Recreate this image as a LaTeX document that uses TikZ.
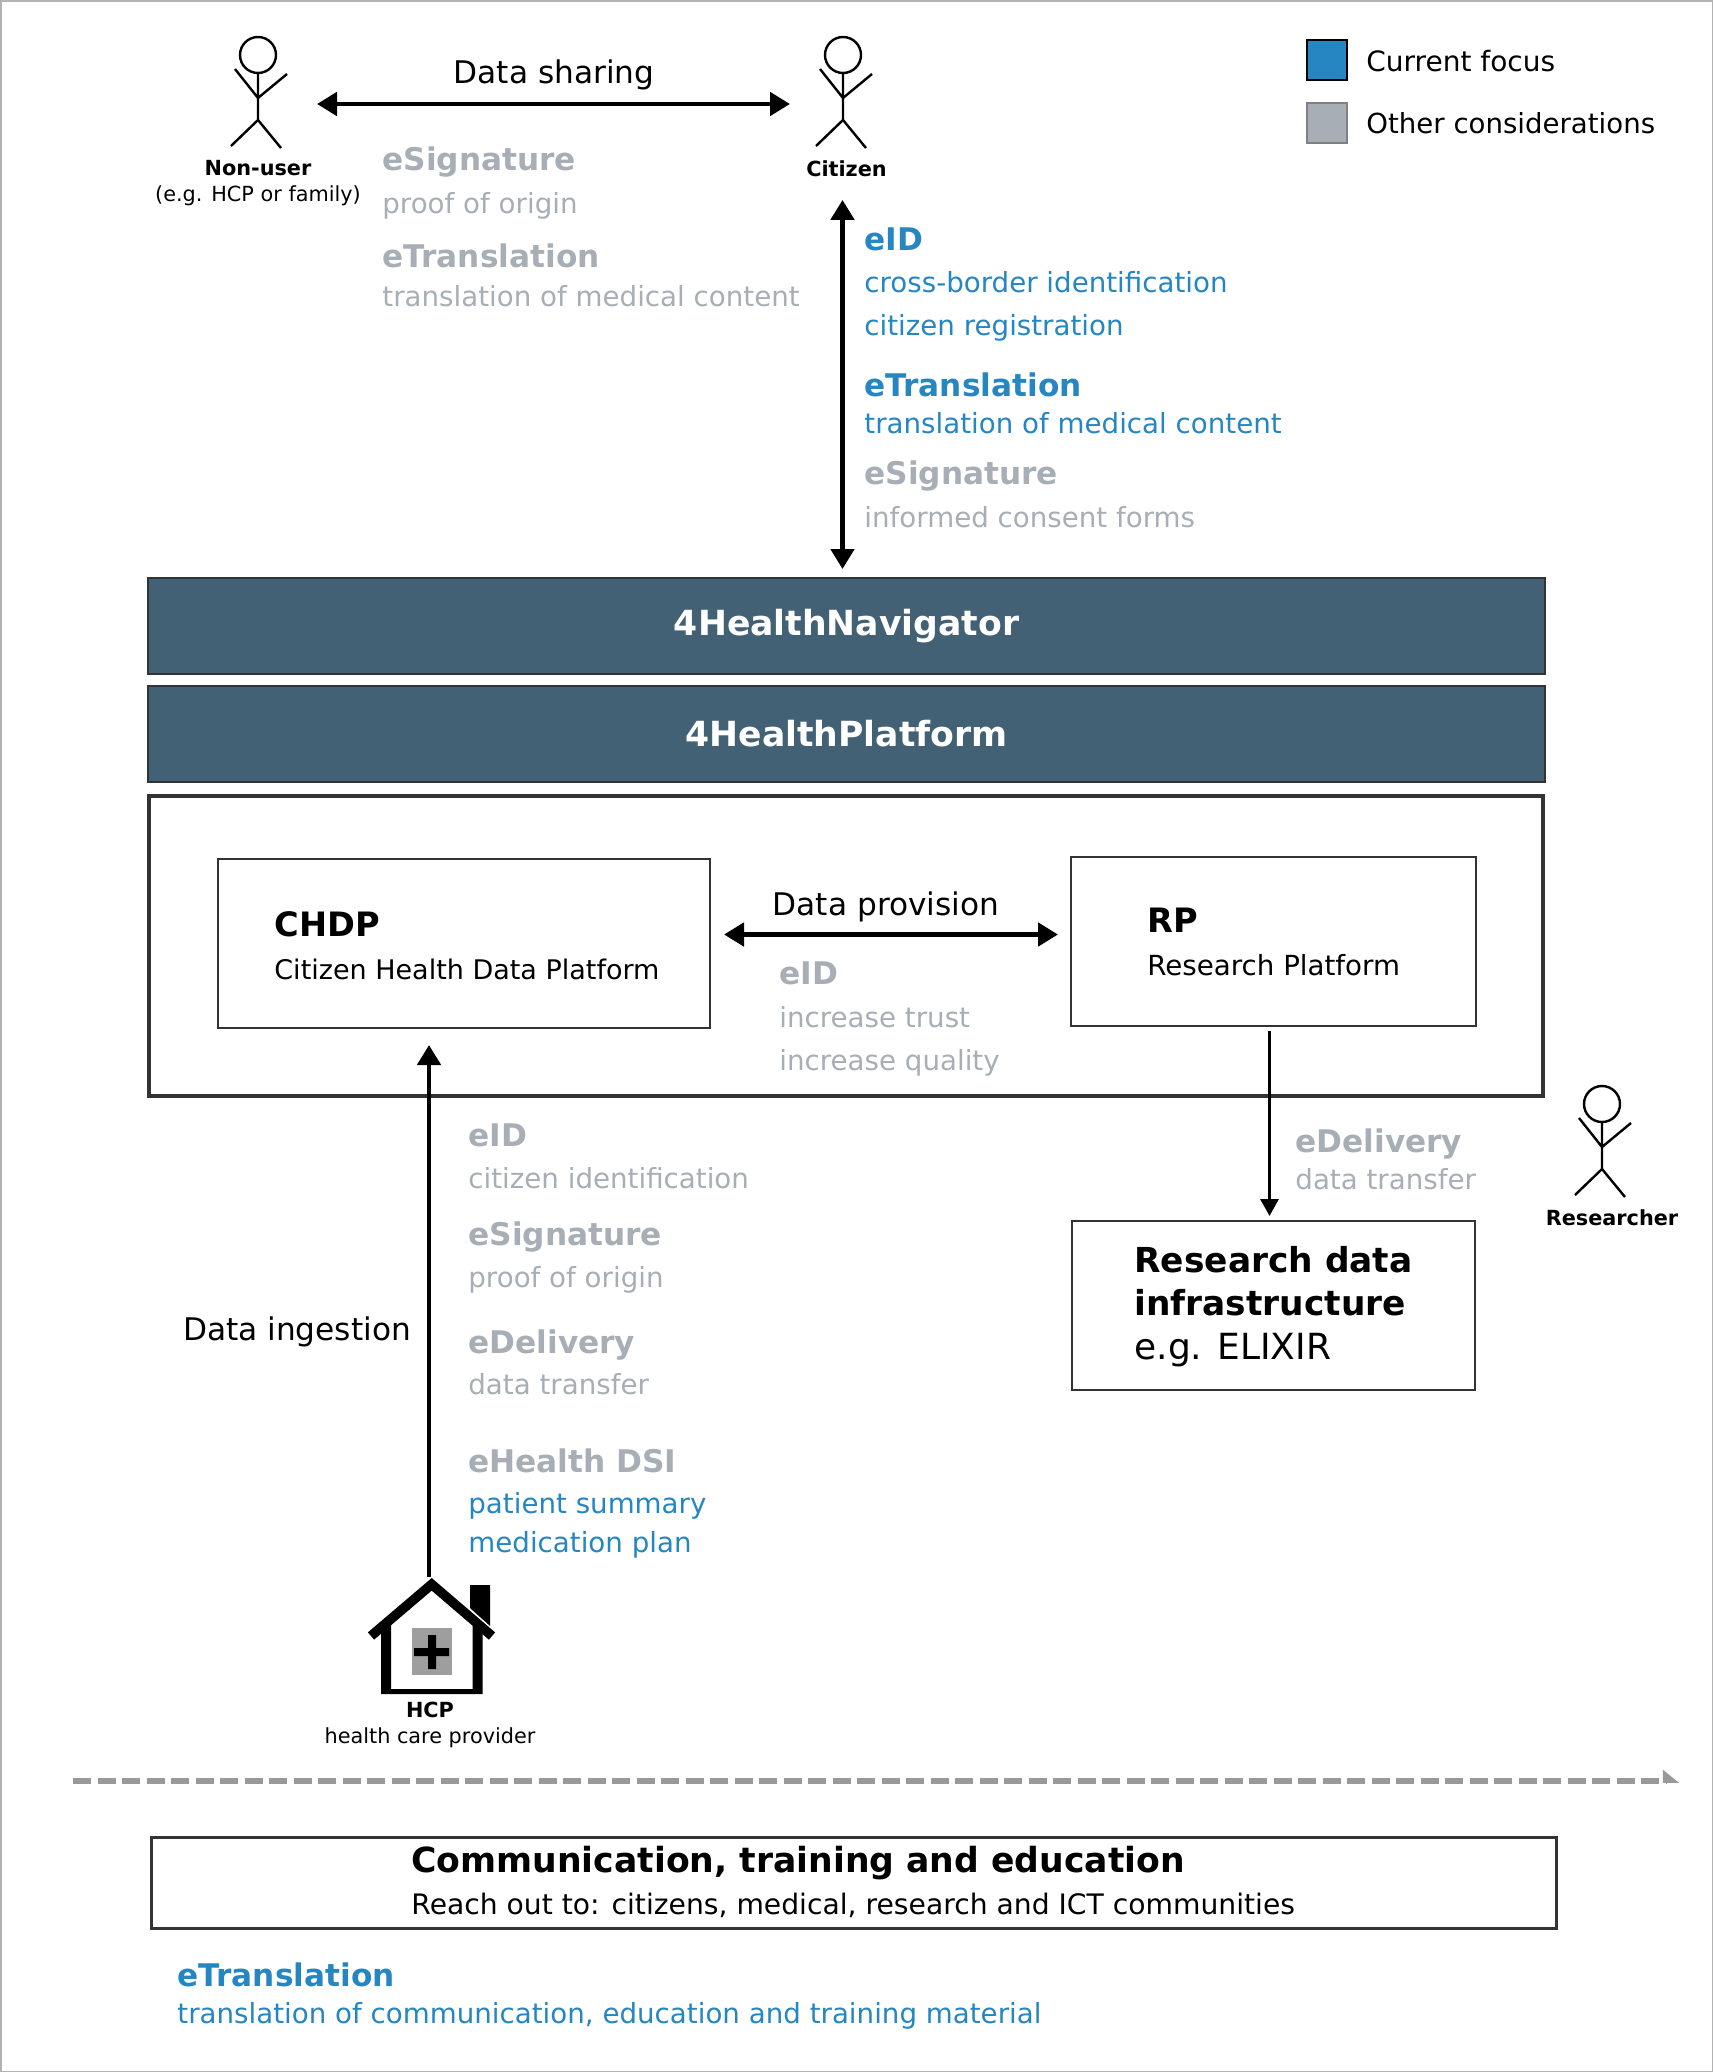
\documentclass[tikz,border=0pt]{standalone}
\usepackage{fontspec}
\setmainfont{DejaVu Sans}
\usepackage{xcolor}
\usetikzlibrary{positioning,arrows.meta}
\definecolor{focusblue}{HTML}{2586C2}
\definecolor{othergrey}{HTML}{A7AEB5}
\definecolor{barblue}{HTML}{426175}
\definecolor{edgedark}{HTML}{333333}
\newcommand{\fsz}[1]{\fontsize{#1}{#1}\selectfont}
\tikzset{
  lbl/.style={anchor=west, inner sep=0pt, text height=.75em, text depth=.2em, yshift=-2.2pt},
  mid/.style={inner sep=0pt, text height=.75em, text depth=.2em, yshift=-1.5pt},
  greyhead/.style={lbl, yshift=-.7pt, text=othergrey, font=\fsz{15.6}\bfseries},
  greytext/.style={lbl, text=othergrey, font=\fsz{13.85}},
  bluehead/.style={lbl, yshift=-.7pt, text=focusblue, font=\fsz{15.6}\bfseries},
  bluetext/.style={lbl, text=focusblue, font=\fsz{13.85}},
  bodytext/.style={lbl, font=\fsz{13.5}},
  boldtitle/.style={lbl, yshift=-1.2pt, font=\fsz{17.2}\bfseries},
  actorname/.style={mid, font=\fsz{10.4}\bfseries},
  actornote/.style={mid, font=\fsz{10.4}},
  bigtext/.style={mid, yshift=-1.2pt, font=\fsz{15.6}},
  platebar/.style={draw=edgedark, line width=1pt, fill=barblue, text=white, font=\fsz{17.3}\bfseries,
    minimum width=698.5pt, minimum height=48pt, inner sep=0pt},
  plainbox/.style={draw=edgedark, line width=1pt, inner sep=0pt},
  mainarrow/.style={<->, >={Triangle[length=10pt,width=11.5pt]}, line width=2.4pt},
  ingestarrow/.style={->, >={Triangle[length=10pt,width=11.5pt]}, line width=2.4pt},
  onearrow/.style={->, >={Triangle[length=8.5pt,width=9pt]}, line width=1.5pt},
  legendbox/.style={minimum width=20pt, minimum height=20pt, inner sep=0pt, line width=1pt},
  actor/.pic={
    \draw[line width=1.2pt] (0,0) circle (18);
    \draw[line width=1.2pt] (0,18) -- (0,65)
      (-23,14) -- (0,43) -- (29,19)
      (-27,91) -- (0,65) -- (23,93);
    \coordinate (-east) at (59,49);
    \coordinate (-west) at (-53,49);
  }
}
\begin{document}
\begin{tikzpicture}[x=0.5pt, y=-0.5pt]
   \useasboundingbox (0,0) rectangle (1713,2072);
   \draw[black!30, line width=1.5pt] (0,0) rectangle (1713,2072);

   \pic (nonuser) at (258,55) {actor};
   \pic (citizen) at (843,55) {actor};
   \pic (researcher) at (1602,1104) {actor};

   \node[actorname] (nonuserlbl) at (258,167) {Non-user};
   \node[actornote] (nonusernote) at (258,193) {(e.g. HCP or family)};
   \node[actorname] (citizenlbl) at (846.5,168) {Citizen};
   \node[actorname] (researcherlbl) at (1612,1217) {Researcher};

   \node[bigtext] (sharing) at (554,73) {Data sharing};
   \node[greyhead] (sigA) at (382,159) {eSignature};
   \node[greytext] (sigAtxt) at (382,204) {proof of origin};
   \node[greyhead] (transA) at (382,256) {eTranslation};
   \node[greytext] (transAtxt) at (382,297) {translation of medical content};

   \node[bluehead] (eidB) at (864,239) {eID};
   \node[bluetext] (eidBa) at (864,283) {cross-border identification};
   \node[bluetext] (eidBb) at (864,326) {citizen registration};
   \node[bluehead] (transB) at (864,385) {eTranslation};
   \node[bluetext] (transBtxt) at (864,424) {translation of medical content};
   \node[greyhead] (sigB) at (864,473) {eSignature};
   \node[greytext] (sigBtxt) at (864,518) {informed consent forms};

   \node[legendbox, draw=black, fill=focusblue] (legfocus) at (1327,60) {};
   \node[legendbox, draw=gray, fill=othergrey] (legother) at (1327,123) {};
   \node[bigtext, anchor=west, font=\fsz{14}] (legfocustxt) at (1366,61) {Current focus};
   \node[bigtext, anchor=west, font=\fsz{13.8}] (legothertxt) at (1366,123) {Other considerations};

   \node[platebar] (navigator) at (846.5,626) {4HealthNavigator};
   \node[platebar] (platform) at (846.5,734) {4HealthPlatform};
   \node[draw=edgedark, line width=2pt, minimum width=697pt, minimum height=150pt, inner sep=0pt] (chdpframe) at (845.5,946) {};

   \node[plainbox, minimum width=246pt, minimum height=84.5pt] (chdp) at (464,943.5) {};
   \node[boldtitle, font=\fsz{16.8}\bfseries] (chdpname) at (274,924) {CHDP};
   \node[bodytext] (chdptxt) at (274,970) {Citizen Health Data Platform};
   \node[plainbox, minimum width=202.5pt, minimum height=84.5pt] (rp) at (1273.5,941.5) {};
   \node[boldtitle, font=\fsz{16.8}\bfseries] (rpname) at (1147,920) {RP};
   \node[bodytext, font=\fsz{13.85}] (rptxt) at (1147,966) {Research Platform};

   \node[bigtext] (provision) at (886,905) {Data provision};
   \node[greyhead] (eidC) at (779,973) {eID};
   \node[greytext] (eidCa) at (779,1018) {increase trust};
   \node[greytext] (eidCb) at (779,1061) {increase quality};

   \node[plainbox, minimum width=201.5pt, minimum height=84.5pt] (infra) at (1273.5,1305.5) {};
   \node[boldtitle] (infraA) at (1134,1260) {Research data};
   \node[boldtitle] (infraB) at (1134,1303) {infrastructure};
   \node[boldtitle, font=\fsz{18}] (infraC) at (1134,1347) {e.g. ELIXIR};
   \node[greyhead] (deliverB) at (1295,1141) {eDelivery};
   \node[greytext] (deliverBtxt) at (1295,1180) {data transfer};

   \node[bigtext] (ingestion) at (297,1330) {Data ingestion};
   \node[greyhead] (eidD) at (468,1135) {eID};
   \node[greytext] (eidDtxt) at (468,1179) {citizen identification};
   \node[greyhead] (sigD) at (468,1234) {eSignature};
   \node[greytext] (sigDtxt) at (468,1278) {proof of origin};
   \node[greyhead] (deliverD) at (468,1342) {eDelivery};
   \node[greytext] (deliverDtxt) at (468,1385) {data transfer};
   \node[greyhead] (dsi) at (468,1461) {eHealth DSI};
   \node[bluetext] (dsia) at (468,1504) {patient summary};
   \node[bluetext] (dsib) at (468,1543) {medication plan};

   \fill (470,1585) -- (490,1585) -- (490,1626) -- (470,1608) -- cycle;
   \draw[white, line width=6pt] (431.7,1584.3) -- (492,1636);
   \fill (381,1622) rectangle (391,1694) (472.5,1622) rectangle (482.5,1694) (381,1689) rectangle (482.5,1694);
   \draw[line width=4.8pt] (371,1636) -- (431.7,1584.3) -- (492,1636);
   \fill[black!38] (411.5,1628) rectangle (451.5,1675);
   \fill (414,1648) rectangle (449,1656) (428,1635) rectangle (436,1669);
   \coordinate (hcptop) at (429,1577);
   \node[actorname] (hcplbl) at (430,1709) {HCP};
   \node[actornote] (hcptxt) at (430,1735) {health care provider};

   \coordinate (dashstart) at (73,1781);
   \coordinate (dashend) at (1679,1781);
   \draw[black!40, line width=3pt, dash pattern=on 9pt off 3.25pt, -{Triangle[left,length=7pt,width=11pt]}] (dashstart) -- (dashend);

   \node[draw=edgedark, line width=1.5pt, minimum width=702.5pt, minimum height=45.5pt, inner sep=0pt] (commbox) at (853.5,1882.5) {};
   \node[boldtitle, font=\fsz{17.3}\bfseries] (commname) at (411,1860) {Communication, training and education};
   \node[bodytext, font=\fsz{14.1}] (commtxt) at (411,1905) {Reach out to: citizens, medical, research and ICT communities};
   \node[bluehead] (transE) at (177,1975) {eTranslation};
   \node[bluetext] (transEtxt) at (177,2014) {translation of communication, education and training material};

   \path[mainarrow]
      (nonuser-east) edge (citizen-west)
      ([xshift=-2pt,yshift=-9.5pt]citizenlbl.south) edge[shorten >=4pt] ([xshift=-2pt]navigator.north)
      ([yshift=4.5pt,xshift=6.5pt]chdp.east) edge ([yshift=3.5pt,xshift=-6pt]rp.west);
   \path[ingestarrow, shorten >=8pt]
      (hcptop) edge (hcptop |- chdp.south);
   \path[onearrow, shorten <=2pt, shorten >=2pt]
      ([xshift=-2pt]rp.south) edge ([xshift=-2pt]infra.north);
\end{tikzpicture}
\end{document}
